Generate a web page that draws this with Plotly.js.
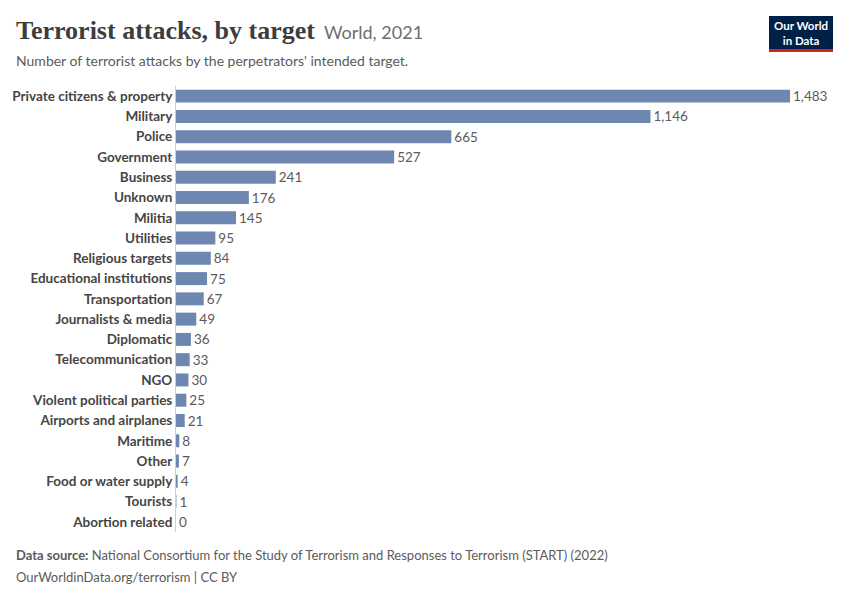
<!DOCTYPE html>
<html>
<head>
<meta charset="utf-8">
<script src="https://cdn.plot.ly/plotly-3.0.1.min.js"></script>
<style>
html,body{margin:0;padding:0;background:#fff;}
#chart{width:850px;height:600px;}
</style>
</head>
<body>
<div id="chart"></div>
<script>
const categories = [
  "Private citizens & property","Military","Police","Government","Business","Unknown",
  "Militia","Utilities","Religious targets","Educational institutions","Transportation",
  "Journalists & media","Diplomatic","Telecommunication","NGO","Violent political parties",
  "Airports and airplanes","Maritime","Other","Food or water supply","Tourists","Abortion related"
];
const attacks = [1483,1146,665,527,241,176,145,95,84,75,67,49,36,33,30,25,21,8,7,4,1,0];
const labels = attacks.map(v => v.toLocaleString("en-US"));

const barColor = "#6d87b0";
const textGray = "#5b5b5b";

const trace = {
  type: "bar",
  orientation: "h",
  y: categories,
  x: attacks,
  marker: {color: barColor},
  text: labels,
  textposition: "outside",
  constraintext: "none",
  textfont: {family: "Lato, sans-serif", size: 13.5, color: "#5b5b5b"},
  cliponaxis: false,
  hoverinfo: "none"
};

const layout = {
  width: 850, height: 600,
  margin: {l: 176, r: 60, t: 86, b: 68},
  paper_bgcolor: "#fff", plot_bgcolor: "#fff",
  showlegend: false,
  bargap: 0.36,
  xaxis: {range: [0, 1483], showgrid: false, zeroline: false, showticklabels: false, showline: false, fixedrange: true},
  yaxis: {
    autorange: "reversed", showgrid: false, zeroline: false,
    showline: true, linecolor: "#cfcfcf", linewidth: 1,
    ticks: "", ticklen: 0,
    tickfont: {family: "Lato, sans-serif", size: 13.5, color: "#454545", weight: 700},
    automargin: false
  },
  shapes: [
    {type: "rect", xref: "paper", yref: "paper",
      x0: (769-176)/614, x1: (833-176)/614, y0: (600-68-16)/446, y1: (600-68-49)/446,
      fillcolor: "#002147", line: {width: 0}, layer: "above"},
    {type: "rect", xref: "paper", yref: "paper",
      x0: (769-176)/614, x1: (833-176)/614, y0: (600-68-49)/446, y1: (600-68-52)/446,
      fillcolor: "#ce261e", line: {width: 0}, layer: "above"}
  ],
  annotations: [
    {xref: "paper", yref: "paper", x: -162/614, y: (600-68-31)/446, xanchor: "left", yanchor: "middle",
      showarrow: false,
      text: "<span style='font-family:\"Liberation Serif\", serif;font-size:26px;font-weight:bold;color:#3d3d3d;'>Terrorist attacks, by target</span><span style='font-family:Lato, sans-serif;font-size:18px;color:#6e6e6e;'>&nbsp; World, 2021</span>"},
    {xref: "paper", yref: "paper", x: -162/614, y: (600-68-61)/446, xanchor: "left", yanchor: "middle",
      showarrow: false, font: {family: "Lato, sans-serif", size: 14, color: textGray},
      text: "Number of terrorist attacks by the perpetrators' intended target."},
    {xref: "paper", yref: "paper", x: (801-176)/614, y: (600-68-33)/446, xanchor: "center", yanchor: "middle",
      showarrow: false, font: {family: "Lato, sans-serif", size: 11.5, color: "#fff", weight: 700},
      text: "Our World<br>in Data"},
    {xref: "paper", yref: "paper", x: -162/614, y: (600-68-555)/446, xanchor: "left", yanchor: "middle",
      showarrow: false, font: {family: "Lato, sans-serif", size: 13, color: textGray},
      text: "<b>Data source:</b> National Consortium for the Study of Terrorism and Responses to Terrorism (START) (2022)"},
    {xref: "paper", yref: "paper", x: -162/614, y: (600-68-577)/446, xanchor: "left", yanchor: "middle",
      showarrow: false, font: {family: "Lato, sans-serif", size: 13, color: textGray},
      text: "OurWorldinData.org/terrorism | CC BY"}
  ]
};

Plotly.newPlot("chart", [trace], layout, {displayModeBar: false, staticPlot: true});
</script>
</body>
</html>
